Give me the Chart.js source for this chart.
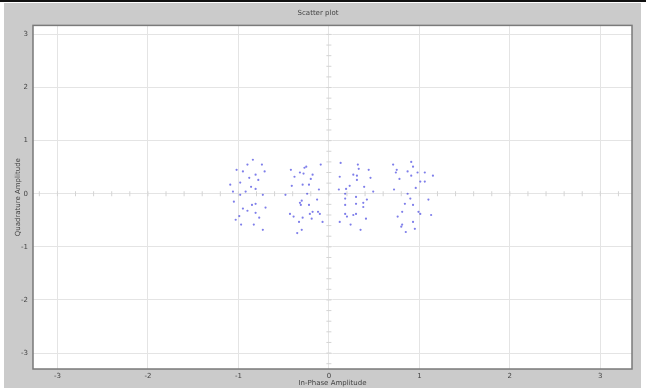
<!DOCTYPE html>
<html>
<head>
<meta charset="utf-8">
<script src="https://cdn.jsdelivr.net/npm/chart.js@4/dist/chart.umd.min.js"></script>
<style>
  html, body { margin: 0; padding: 0; background: #fff; }
  #wrap { width: 646px; height: 388px; }
</style>
</head>
<body>
<div id="wrap"><canvas id="plot" width="646" height="388"></canvas></div>
<script>
// tick labels
const xTicks = [-3, -2, -1, 0, 1, 2, 3];
const yTicks = [-3, -2, -1, 0, 1, 2, 3];

// received symbols, one small array per cluster (in-phase, quadrature)
const clusterA_I = [-0.90, -0.74, -0.95, -0.81, -0.78, -0.98, -0.86, -0.81, -0.98, -1.05, -0.81, -0.85, -0.95, -0.90, -0.81, -0.99, -1.03, -0.83, -0.71, -1.09, -0.84, -1.02, -0.73, -0.92, -0.77, -0.97, -0.70, -0.88, -1.06, -0.73];
const clusterA_Q = [0.55, 0.55, 0.42, 0.36, 0.26, 0.21, 0.13, 0.09, -0.02, -0.15, -0.19, -0.21, -0.28, -0.32, -0.36, -0.42, -0.49, -0.58, 0.42, 0.17, 0.64, 0.45, -0.02, 0.04, -0.45, -0.58, -0.26, 0.30, 0.04, -0.68];

const clusterB_I = [-0.25, -0.32, -0.38, -0.28, -0.18, -0.29, -0.22, -0.30, -0.32, -0.22, -0.21, -0.18, -0.43, -0.39, -0.19, -0.10, -0.33, -0.30, -0.27, -0.20, -0.31, -0.29, -0.41, -0.12, -0.48, -0.11, -0.09, -0.42, -0.35, -0.07, -0.24, -0.13];
const clusterB_Q = [0.51, 0.40, 0.32, 0.38, 0.36, 0.17, 0.17, -0.13, -0.17, -0.21, -0.38, -0.34, -0.38, -0.43, -0.47, -0.38, -0.53, -0.68, 0.49, 0.28, -0.21, -0.45, 0.15, -0.34, -0.02, 0.08, 0.55, 0.45, -0.74, -0.53, 0.00, -0.11];

const clusterC_I = [0.32, 0.33, 0.27, 0.31, 0.31, 0.12, 0.19, 0.39, 0.18, 0.49, 0.18, 0.30, 0.30, 0.18, 0.38, 0.30, 0.20, 0.18, 0.41, 0.13, 0.44, 0.11, 0.24, 0.42, 0.12, 0.46, 0.35, 0.38, 0.27, 0.23];
const clusterC_Q = [0.55, 0.47, 0.36, 0.34, 0.26, 0.32, 0.09, 0.13, 0.00, 0.04, -0.09, -0.06, -0.19, -0.21, -0.25, -0.38, -0.43, -0.38, -0.47, 0.58, 0.45, 0.08, -0.58, -0.11, -0.53, 0.30, -0.68, -0.17, -0.40, 0.15];

const clusterD_I = [0.91, 0.93, 0.75, 0.87, 0.91, 0.98, 1.06, 0.78, 1.01, 1.06, 0.87, 0.90, 0.84, 0.93, 0.81, 1.01, 0.76, 0.93, 0.81, 0.95, 1.15, 0.72, 1.10, 0.71, 1.13, 0.85, 0.96, 0.74, 0.99, 0.80];
const clusterD_Q = [0.60, 0.51, 0.45, 0.42, 0.34, 0.40, 0.40, 0.28, 0.23, 0.23, 0.00, -0.09, -0.19, -0.21, -0.34, -0.38, -0.43, -0.53, -0.58, -0.66, 0.34, 0.08, -0.11, 0.55, -0.40, -0.72, 0.11, 0.40, -0.34, -0.62];

const allI = clusterA_I.concat(clusterB_I, clusterC_I, clusterD_I);
const allQ = clusterA_Q.concat(clusterB_Q, clusterC_Q, clusterD_Q);
const points = allI.map((v, i) => ({ x: v, y: allQ[i] }));

// gray figure background, white plot box and frame
const figureBackground = {
    id: 'figureBackground',
    beforeDraw(chart) {
        const ctx = chart.ctx;
        const a = chart.chartArea;
        ctx.save();
        ctx.fillStyle = '#ffffff';
        ctx.fillRect(0, 0, chart.width, chart.height);
        ctx.fillStyle = '#111111';
        ctx.fillRect(0, 0, chart.width, 2);
        ctx.fillStyle = '#cbcbcb';
        ctx.fillRect(4, 3, chart.width - 9, chart.height - 3);
        ctx.fillStyle = '#ffffff';
        ctx.fillRect(a.left, a.top, a.right - a.left, a.bottom - a.top);
        ctx.restore();
    },
    afterDraw(chart) {
        const ctx = chart.ctx;
        const a = chart.chartArea;
        ctx.save();
        ctx.strokeStyle = '#7a7a7a';
        ctx.lineWidth = 1.5;
        ctx.strokeRect(a.left, a.top, a.right - a.left, a.bottom - a.top);
        ctx.restore();
    }
};

// zero lines with small minor tick marks, like a crosshair
const zeroCross = {
    id: 'zeroCross',
    beforeDatasetsDraw(chart) {
        const ctx = chart.ctx;
        const xs = chart.scales.x;
        const ys = chart.scales.y;
        const x0 = xs.getPixelForValue(0);
        const y0 = ys.getPixelForValue(0);
        ctx.save();
        ctx.strokeStyle = '#d4d4d4';
        ctx.lineWidth = 1;
        ctx.beginPath();
        for (let v = -3.2; v <= 3.21; v += 0.2) {
            const px = xs.getPixelForValue(v);
            ctx.moveTo(px, y0 - 2.5);
            ctx.lineTo(px, y0 + 2.5);
            const py = ys.getPixelForValue(v);
            if (py > chart.chartArea.top && py < chart.chartArea.bottom) {
                ctx.moveTo(x0 - 2.5, py);
                ctx.lineTo(x0 + 2.5, py);
            }
        }
        ctx.stroke();
        ctx.restore();
    }
};

const tickFont = { family: 'DejaVu Sans', size: 7 };

new Chart(document.getElementById('plot'), {
    type: 'scatter',
    data: {
        datasets: [{
            data: points,
            backgroundColor: 'rgba(40, 40, 220, 0.6)',
            borderColor: 'rgba(40, 40, 220, 0.6)',
            pointRadius: 1.1,
            borderWidth: 0,
        }],
    },
    options: {
        responsive: false,
        animation: false,
        layout: { padding: { left: 4, right: 14, top: 3, bottom: 0 } },
        plugins: {
            legend: { display: false },
            tooltip: { enabled: false },
            title: {
                display: true,
                text: 'Scatter plot',
                color: '#444',
                font: { family: 'DejaVu Sans', size: 7, weight: 'normal' },
                padding: { top: 6, bottom: 8 },
            },
        },
        scales: {
            x: {
                type: 'linear',
                min: -3.27,
                max: 3.35,
                afterBuildTicks: (scale) => { scale.ticks = xTicks.map(v => ({ value: v })); },
                afterFit: (scale) => { scale.height = 19; },
                grid: { color: '#e4e4e4', drawTicks: false },
                border: { display: false },
                ticks: { color: '#444', font: tickFont, padding: 3, maxRotation: 0 },
                title: {
                    display: true,
                    text: 'In-Phase Amplitude',
                    color: '#444',
                    font: tickFont,
                    padding: { top: 0, bottom: 1 },
                },
            },
            y: {
                type: 'linear',
                min: -3.3,
                max: 3.17,
                afterBuildTicks: (scale) => { scale.ticks = yTicks.map(v => ({ value: v })); },
                afterFit: (scale) => { scale.width = 29; },
                grid: { color: '#e4e4e4', drawTicks: false },
                border: { display: false },
                ticks: { color: '#444', font: tickFont, padding: 5 },
                title: {
                    display: true,
                    text: 'Quadrature Amplitude',
                    color: '#444',
                    font: tickFont,
                    padding: { top: 10, bottom: 0 },
                },
            },
        },
    },
    plugins: [figureBackground, zeroCross],
});
</script>
</body>
</html>
